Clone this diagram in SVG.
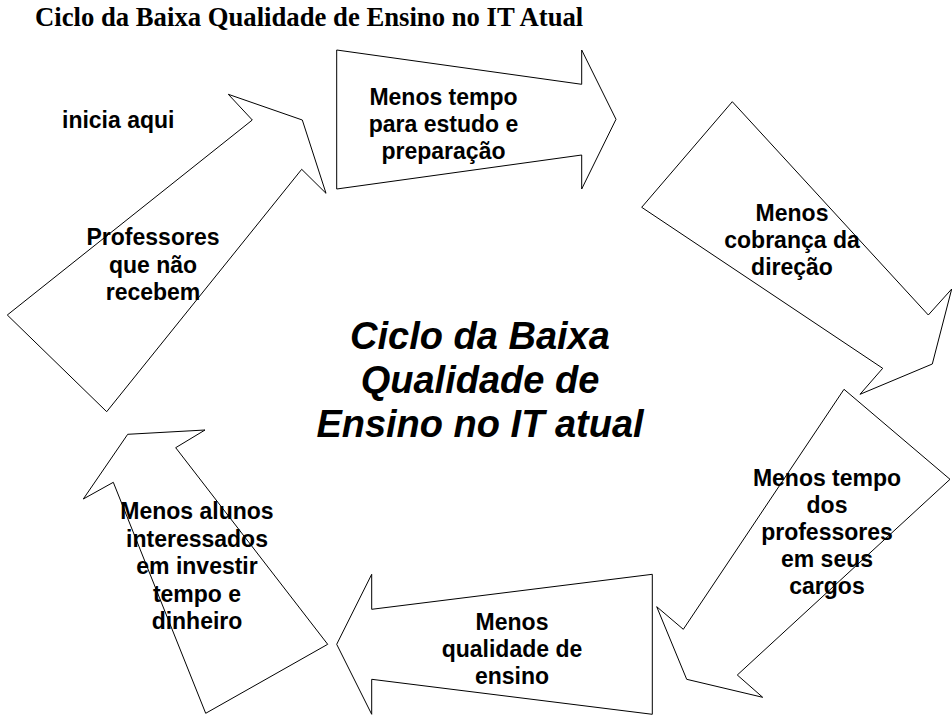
<svg xmlns="http://www.w3.org/2000/svg" width="952" height="715" viewBox="0 0 952 715">
<style>
.arrow{fill:#fff;stroke:#000;stroke-width:1}
.lbl{font-family:"Liberation Sans",Arial,sans-serif;font-weight:bold;font-size:23px;fill:#000;text-anchor:middle}
.center{font-family:"Liberation Sans",Arial,sans-serif;font-weight:bold;font-style:italic;font-size:38px;fill:#000;text-anchor:middle}
.title{font-family:"Liberation Serif","Times New Roman",serif;font-weight:bold;font-size:26.7px;fill:#000}
</style>
<rect width="952" height="715" fill="#fff"/>
<text class="title" x="35" y="26">Ciclo da Baixa Qualidade de Ensino no IT Atual</text>
<g id="connectors">
<g id="arrow1"><polygon class="arrow" points="7.3,315 252.3,120 228.3,94.3 302.3,120 326,193.3 301.7,169.3 106.7,411.7"/></g>
<g id="arrow2"><polygon class="arrow" points="336.7,50 581.7,84.3 581.7,50 616,119.3 581.7,189 581.7,155 336.7,189"/></g>
<g id="arrow3"><polygon class="arrow" points="732.3,101.7 928.3,315 951.7,289 932.3,364 860,394.3 882.7,368.3 641.7,207.3"/></g>
<g id="arrow4"><polygon class="arrow" points="844,389.3 950,479.3 737.3,675 762.7,697.3 686.7,679.3 656.7,606.7 683.3,629.3"/></g>
<g id="arrow5"><polygon class="arrow" points="652.3,574.3 371.7,609.3 371.7,574.3 336.7,644.3 371.7,714.3 371.7,679.3 652.3,714.3"/></g>
<g id="arrow6"><polygon class="arrow" points="205.7,713.3 327.7,644.3 175.7,447.7 205,430 127.7,434.3 83.3,499 113.3,482.3"/></g>
</g>
<g id="start">
<text class="lbl" x="62" y="128" style="text-anchor:start">inicia aqui</text>
</g>
<g id="node1">
<text class="lbl" x="153" y="245">Professores</text>
<text class="lbl" x="153" y="272.5">que não</text>
<text class="lbl" x="153" y="300">recebem</text>
</g>
<g id="node2">
<text class="lbl" x="443.5" y="105">Menos tempo</text>
<text class="lbl" x="443.5" y="132">para estudo e</text>
<text class="lbl" x="443.5" y="159">preparação</text>
</g>
<g id="node3">
<text class="lbl" x="792" y="221">Menos</text>
<text class="lbl" x="792" y="248">cobrança da</text>
<text class="lbl" x="792" y="275">direção</text>
</g>
<g id="node4">
<text class="lbl" x="827" y="486">Menos tempo</text>
<text class="lbl" x="827" y="513">dos</text>
<text class="lbl" x="827" y="540">professores</text>
<text class="lbl" x="827" y="567">em seus</text>
<text class="lbl" x="827" y="594">cargos</text>
</g>
<g id="node5">
<text class="lbl" x="512" y="630">Menos</text>
<text class="lbl" x="512" y="657">qualidade de</text>
<text class="lbl" x="512" y="684">ensino</text>
</g>
<g id="node6">
<text class="lbl" x="197" y="519">Menos alunos</text>
<text class="lbl" x="197" y="546.5">interessados</text>
<text class="lbl" x="197" y="574">em investir</text>
<text class="lbl" x="197" y="601.5">tempo e</text>
<text class="lbl" x="197" y="629">dinheiro</text>
</g>
<g id="center">
<text class="center" x="480" y="349">Ciclo da Baixa</text>
<text class="center" x="480" y="393">Qualidade de</text>
<text class="center" x="480" y="437">Ensino no IT atual</text>
</g>
</svg>
